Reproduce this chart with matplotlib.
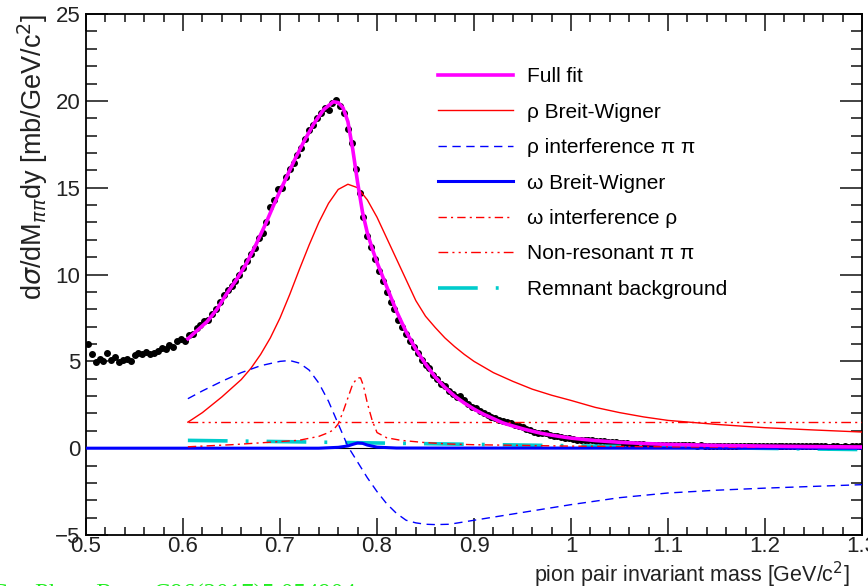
import numpy as np
import matplotlib.pyplot as plt
from matplotlib.ticker import MultipleLocator

plt.rcParams['font.family'] = ['Liberation Sans', 'DejaVu Sans']

# Dane pomiarowe (srodki binow co 0.004 GeV/c^2)
data_x = np.arange(0.502, 1.2981, 0.004)
data_y = [
    6.0, 5.4, 4.95, 5.15, 5.0, 5.5, 5.05, 5.25, 4.95, 5.1,
    5.15, 5.0, 5.35, 5.5, 5.4, 5.55, 5.45, 5.5, 5.6, 5.75,
    5.7, 5.95, 5.85, 6.15, 6.3, 6.15, 6.5, 6.6, 6.9, 7.1,
    7.3, 7.4, 7.7, 8.0, 8.4, 8.8, 9.1, 9.35, 9.6, 10.0,
    10.4, 10.8, 11.2, 11.5, 12.1, 12.4, 13.0, 13.9, 14.3, 14.9,
    15.0, 15.6, 16.1, 16.4, 16.9, 17.3, 17.8, 18.3, 18.6, 19.0,
    19.3, 19.6, 19.5, 19.9, 20.05, 19.7, 19.3, 18.4, 17.6, 16.1,
    14.7, 13.3, 12.2, 11.6, 10.9, 10.2, 9.6, 9.0, 8.4, 8.0,
    7.4, 7.0, 6.6, 6.2, 5.8, 5.5, 5.1, 4.8, 4.6, 4.2,
    4.0, 3.7, 3.6, 3.3, 3.1, 2.95, 3.0, 2.8, 2.55, 2.4,
    2.3, 2.15, 2.05, 1.9, 1.8, 1.75, 1.65, 1.55, 1.5, 1.45,
    1.35, 1.25, 1.2, 1.1, 1.05, 0.95, 0.9, 0.85, 0.85, 0.75,
    0.7, 0.7, 0.65, 0.6, 0.6, 0.55, 0.5, 0.5, 0.45, 0.5,
    0.45, 0.4, 0.4, 0.4, 0.35, 0.35, 0.35, 0.3, 0.3, 0.3,
    0.25, 0.25, 0.25, 0.25, 0.2, 0.2, 0.2, 0.2, 0.2, 0.18,
    0.2, 0.18, 0.17, 0.18, 0.16, 0.17, 0.16, 0.15, 0.16, 0.15,
    0.15, 0.14, 0.15, 0.14, 0.14, 0.13, 0.14, 0.13, 0.13, 0.12,
    0.13, 0.12, 0.12, 0.12, 0.11, 0.12, 0.11, 0.11, 0.12, 0.11,
    0.1, 0.11, 0.1, 0.11, 0.1, 0.1, 0.1, 0.11, 0.1, 0.1,
    0.1, 0.09, 0.1, 0.1, 0.09, 0.1, 0.09, 0.1, 0.1, 0.1,
]
data_x = data_x[:len(data_y)]

# Pelne dopasowanie
fit_x = [0.605, 0.615, 0.625, 0.635, 0.645, 0.655, 0.665, 0.675, 0.685, 0.695,
         0.705, 0.715, 0.725, 0.735, 0.745, 0.755, 0.760, 0.765, 0.770, 0.775,
         0.780, 0.785, 0.790, 0.795, 0.800, 0.810, 0.820, 0.830, 0.840, 0.850,
         0.860, 0.870, 0.880, 0.890, 0.900, 0.910, 0.920, 0.930, 0.940, 0.950,
         0.960, 0.970, 0.980, 0.990, 1.000, 1.025, 1.050, 1.075, 1.100, 1.150,
         1.200, 1.250, 1.300]
fit_y = [6.3, 6.8, 7.3, 8.0, 8.9, 9.7, 10.6, 11.7, 12.9, 14.2,
         15.4, 16.6, 17.7, 18.7, 19.5, 19.95, 19.9, 19.6, 18.8, 17.2,
         15.3, 13.6, 12.4, 11.5, 10.7, 9.3, 7.9, 6.7, 5.7, 4.85,
         4.1, 3.5, 3.0, 2.6, 2.25, 1.95, 1.7, 1.45, 1.28, 1.12,
         0.98, 0.85, 0.75, 0.66, 0.58, 0.44, 0.34, 0.27, 0.22, 0.16,
         0.12, 0.09, 0.07]

# rho Breit-Wigner
rho_x = [0.605, 0.61, 0.62, 0.63, 0.64, 0.65, 0.66, 0.67, 0.68, 0.69,
         0.70, 0.71, 0.72, 0.73, 0.74, 0.75, 0.76, 0.77, 0.78, 0.79,
         0.80, 0.81, 0.82, 0.83, 0.84, 0.85, 0.86, 0.87, 0.88, 0.89,
         0.90, 0.92, 0.94, 0.96, 0.98, 1.00, 1.025, 1.05, 1.075, 1.10,
         1.15, 1.20, 1.25, 1.30]
rho_y = [1.5, 1.68, 2.05, 2.5, 2.95, 3.45, 3.95, 4.6, 5.4, 6.35,
         7.5, 8.85, 10.3, 11.7, 13.0, 14.1, 14.9, 15.2, 15.0, 14.3,
         13.3, 12.1, 10.9, 9.7, 8.5, 7.6, 6.95, 6.35, 5.85, 5.4,
         5.0, 4.35, 3.85, 3.4, 3.05, 2.75, 2.35, 2.05, 1.8, 1.6,
         1.37, 1.18, 1.05, 0.93]

# interferencja rho z pi pi
rint_x = [0.605, 0.62, 0.64, 0.66, 0.68, 0.70, 0.71, 0.72, 0.73, 0.74,
          0.75, 0.76, 0.77, 0.78, 0.79, 0.80, 0.81, 0.82, 0.83, 0.84,
          0.85, 0.86, 0.875, 0.90, 0.95, 1.00, 1.05, 1.10, 1.15, 1.20,
          1.25, 1.30]
rint_y = [2.85, 3.3, 3.85, 4.35, 4.75, 5.0, 5.05, 4.9, 4.5, 3.75,
          2.7, 1.4, 0.1, -0.8, -1.7, -2.5, -3.2, -3.75, -4.15, -4.3,
          -4.38, -4.4, -4.38, -4.15, -3.7, -3.25, -2.85, -2.58, -2.42, -2.3,
          -2.2, -2.1]

# omega Breit-Wigner
omg_x = [0.50, 0.74, 0.76, 0.77, 0.775, 0.78, 0.785, 0.79, 0.80, 0.82, 1.30]
omg_y = [0.0, 0.0, 0.05, 0.13, 0.22, 0.3, 0.28, 0.18, 0.06, 0.01, 0.0]

# interferencja omega z rho
oint_x = [0.605, 0.65, 0.70, 0.72, 0.74, 0.75, 0.755, 0.76, 0.765, 0.77,
          0.775, 0.78, 0.783, 0.786, 0.79, 0.795, 0.80, 0.81, 0.825, 0.85,
          0.875, 0.90, 1.00, 1.10, 1.20, 1.30]
oint_y = [0.08, 0.2, 0.38, 0.46, 0.68, 0.9, 1.05, 1.4, 2.1, 2.9,
          3.7, 4.05, 4.05, 3.6, 2.6, 1.6, 0.9, 0.6, 0.45, 0.32,
          0.24, 0.2, 0.12, 0.08, 0.05, 0.04]

# tlo nierezonansowe pi pi
nonres_x = [0.605, 1.30]
nonres_y = [1.5, 1.5]

# tlo resztkowe
bkg_x = [0.605, 0.70, 0.80, 0.90, 1.00, 1.10, 1.20, 1.30]
bkg_y = [0.45, 0.38, 0.3, 0.22, 0.14, 0.06, -0.01, -0.08]

fig = plt.figure(figsize=(8.68, 5.86), dpi=100)
ax = fig.add_axes([0.0991, 0.087, 0.894, 0.889])

ax.plot([0.5, 1.3], [0, 0], color='black', lw=0.8, zorder=1)
ax.plot(data_x, data_y, 'o', color='black', ms=4, zorder=2)
ax.plot(fit_x, fit_y, color='#ff00ff', lw=2.6, label='Full fit', zorder=5)
ax.plot(rho_x, rho_y, color='red', lw=1.0, label='ρ Breit-Wigner', zorder=4)
ax.plot(rint_x, rint_y, color='blue', lw=1.0, dashes=(6, 4),
        label='ρ interference π π', zorder=4)
ax.plot(omg_x, omg_y, color='blue', lw=2.2, label='ω Breit-Wigner', zorder=4)
ax.plot(oint_x, oint_y, color='red', lw=1.0, dashes=(6, 3, 1.5, 3),
        label='ω interference ρ', zorder=4)
ax.plot(nonres_x, nonres_y, color='red', lw=1.0,
        dashes=(7, 3, 1.5, 3, 1.5, 3, 1.5, 3), label='Non-resonant π π', zorder=4)
ax.plot(bkg_x, bkg_y, color='#00cccc', lw=2.6, dashes=(11, 5, 0.8, 5),
        label='Remnant background', zorder=3)

ax.set_xlim(0.5, 1.3)
ax.set_ylim(-5, 25)
ax.xaxis.set_major_locator(MultipleLocator(0.1))
ax.xaxis.set_minor_locator(MultipleLocator(0.02))
ax.yaxis.set_major_locator(MultipleLocator(5))
ax.yaxis.set_minor_locator(MultipleLocator(1))
ax.set_xticks(np.arange(0.5, 1.31, 0.1))
ax.set_xticklabels(['0.5', '0.6', '0.7', '0.8', '0.9', '1', '1.1', '1.2', '1.3'])
ax.tick_params(which='both', direction='in', top=True, right=True,
               labelsize=16, colors='#222222', width=1.2)
ax.tick_params(which='major', axis='y', length=16)
ax.tick_params(which='minor', axis='y', length=8)
ax.tick_params(which='major', axis='x', length=12)
ax.tick_params(which='minor', axis='x', length=6)
ax.tick_params(axis='x', pad=1)
ax.tick_params(axis='y', pad=4)
for s in ax.spines.values():
    s.set_linewidth(1.3)

ax.set_ylabel(r'd$\sigma$/dM$_{\pi\pi}$dy [mb/GeV/c$^{2}$]', fontsize=19.5,
              loc='top', labelpad=4)
ax.yaxis.label.set_color('#222222')
ax.set_xlabel(r'pion pair invariant mass [GeV/c$^{2}$]', fontsize=15.5,
              loc='right')
ax.xaxis.set_label_coords(0.9845, -0.048)
ax.xaxis.label.set_color('#222222')

ax.legend(loc='upper left', bbox_to_anchor=(0.4536, 0.898), frameon=False,
          fontsize=15, handlelength=3.6, handletextpad=0.67, labelspacing=0.79,
          borderpad=0, borderaxespad=0)

fig.text(-0.01, 0.004, 'C', color='#22ee22', fontsize=18, va='top',
         family='Liberation Serif')
fig.text(0.04, 0.004, 'Phys. Rev.  C96(2017)5,054904', color='#22ee22',
         fontsize=18, va='top', family='Liberation Serif')

fig.savefig('out.png', dpi=100)
